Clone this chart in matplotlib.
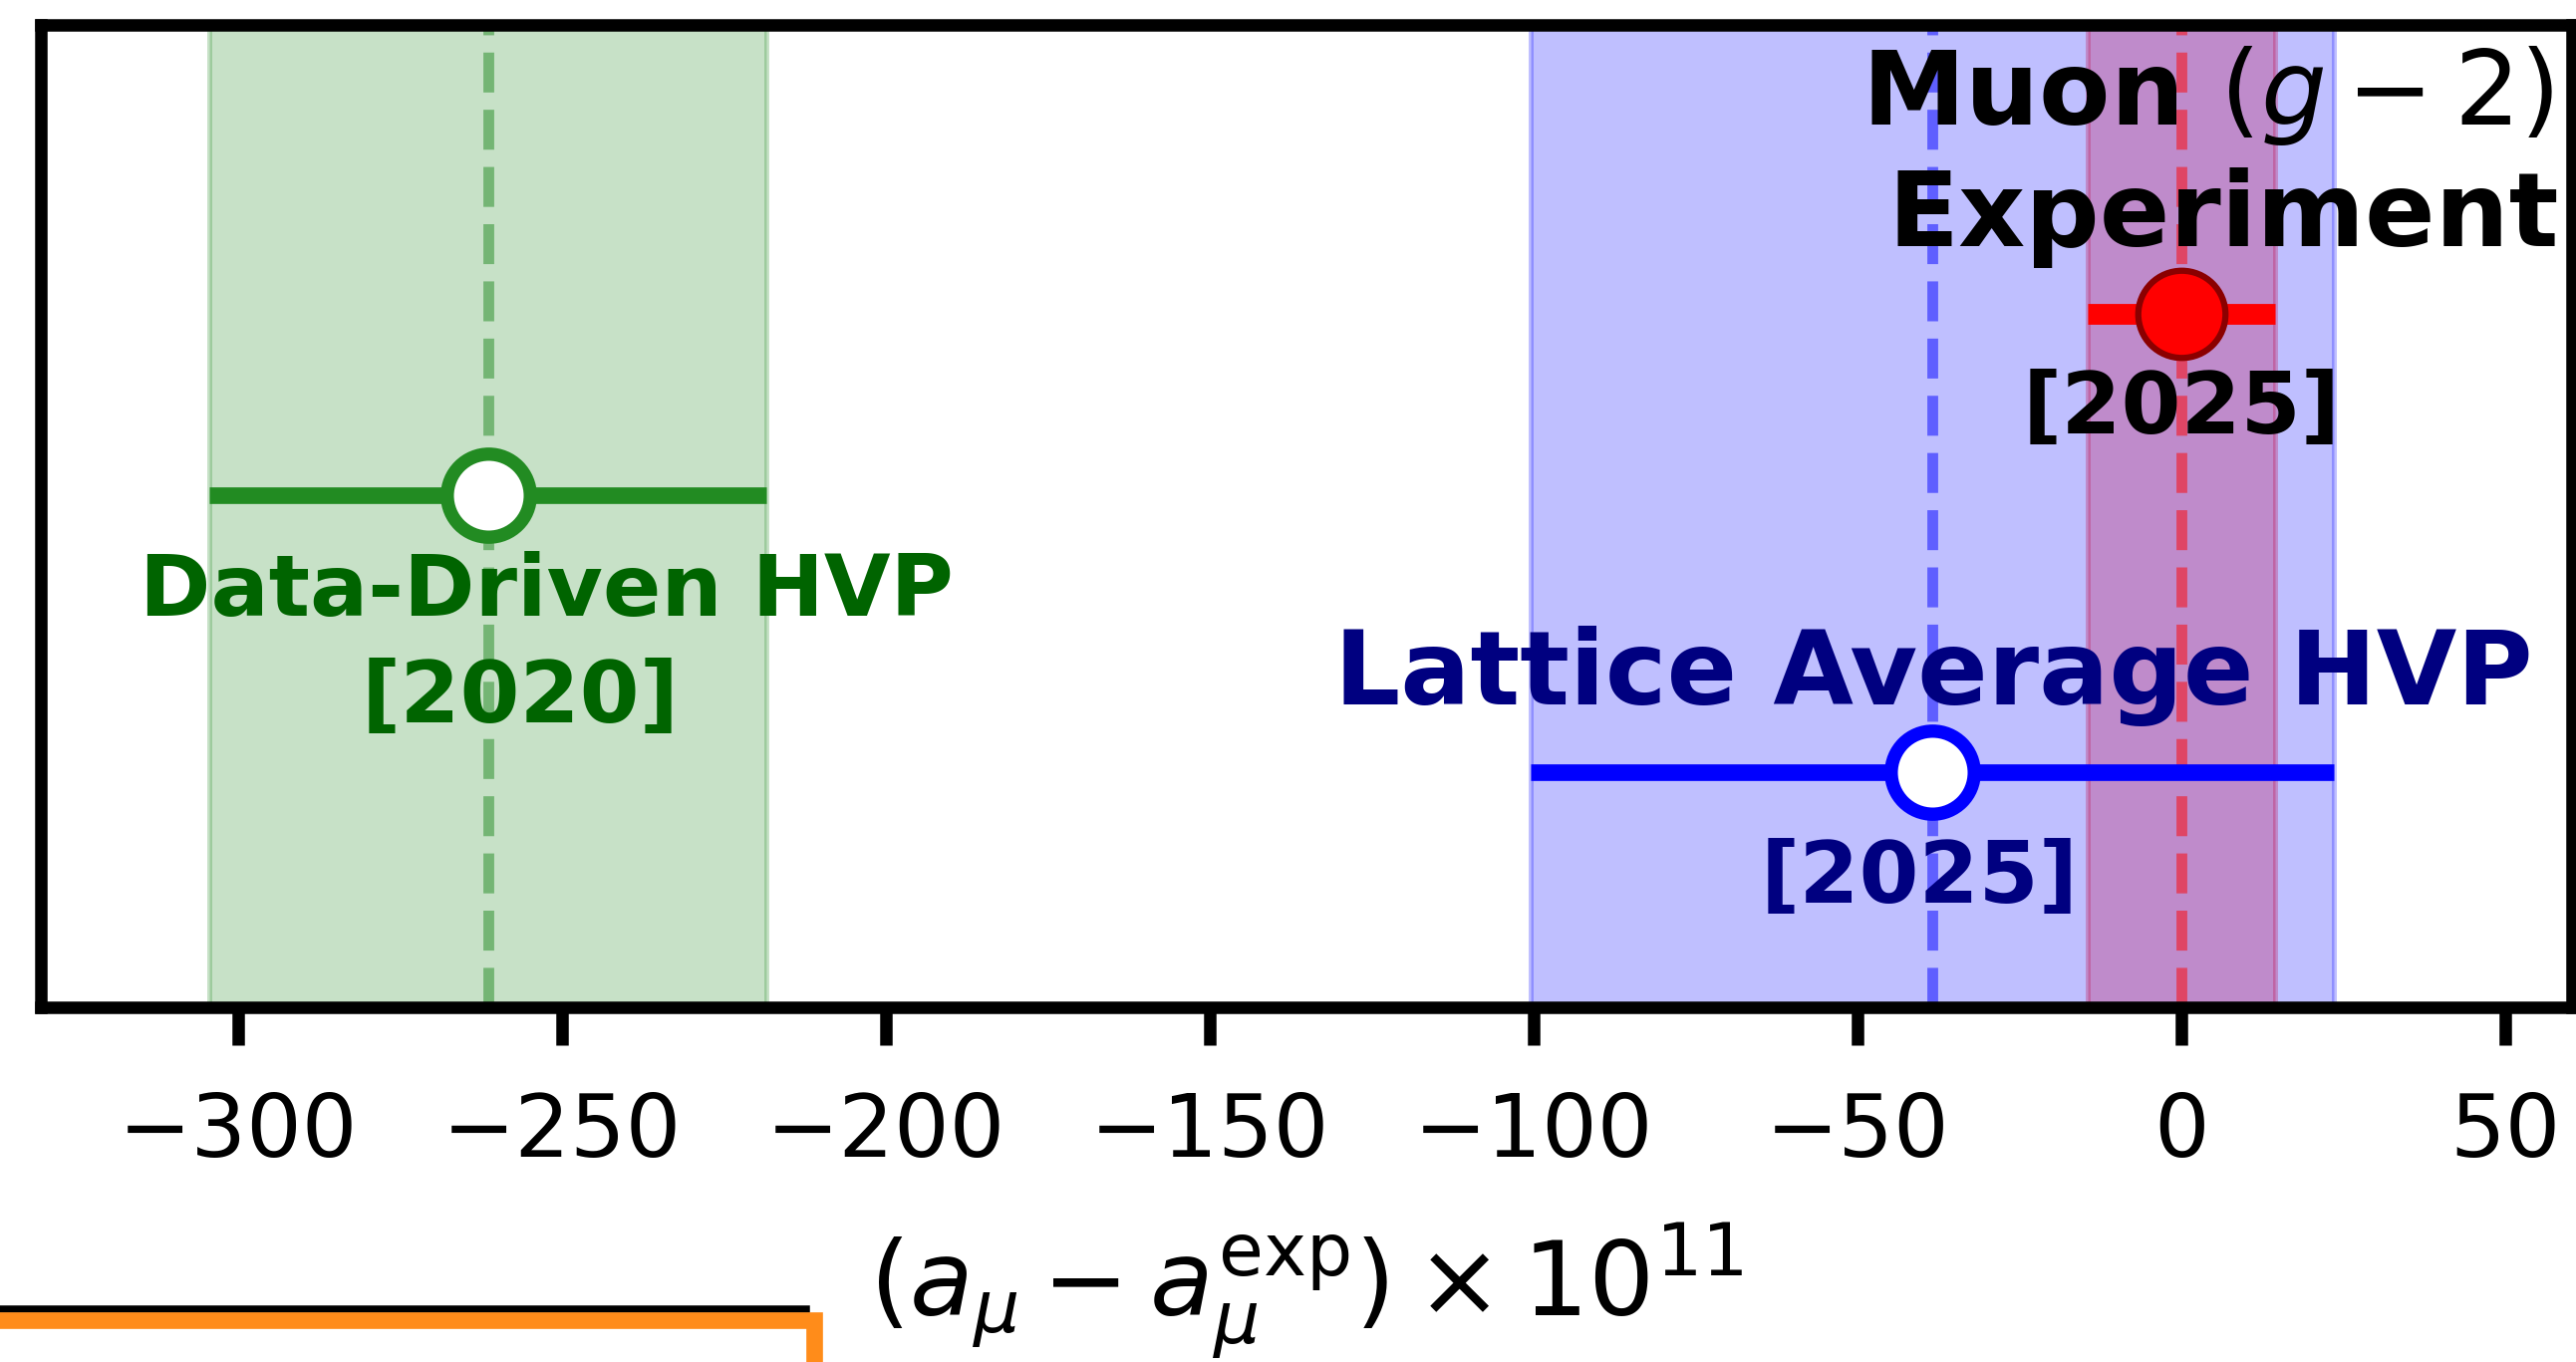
import matplotlib
matplotlib.use("Agg")
import matplotlib.pyplot as plt
from matplotlib.lines import Line2D

# Values of (a_mu - a_mu^exp) x 1e11 with their 1-sigma uncertainties
names = ["Experiment", "Data-Driven HVP", "Lattice Average HVP"]
centers = [0.0, -261.5, -38.5]
errors = [14.5, 43.0, 62.0]
years = ["[2025]", "[2020]", "[2025]"]
rows = [0.706, 0.521, 0.239]          # vertical placement of each result

xticks = [-300, -250, -200, -150, -100, -50, 0, 50]

plt.rcParams["font.family"] = ["DejaVu Sans"]
plt.rcParams["mathtext.fontset"] = "dejavusans"

fig = plt.figure(figsize=(8.62, 4.56), dpi=300)
ax = fig.add_axes([0.0159, 0.2602, 0.9821, 0.7208])
ax.set_xlim(-330.5, 60.3)
ax.set_ylim(0, 1)

exp_c, dd_c, lat_c = centers
exp_e, dd_e, lat_e = errors
exp_y, dd_y, lat_y = rows

# uncertainty bands
ax.axvspan(exp_c - exp_e, exp_c + exp_e, color="red", alpha=0.27, lw=1.2, zorder=1)
ax.axvspan(dd_c - dd_e, dd_c + dd_e, color="forestgreen", alpha=0.25, lw=1.2, zorder=1)
ax.axvspan(lat_c - lat_e, lat_c + lat_e, color="blue", alpha=0.25, lw=1.2, zorder=1.1)

# central values
ax.axvline(exp_c, color="red", alpha=0.5, ls="--", lw=2.6, zorder=2)
ax.axvline(dd_c, color="forestgreen", alpha=0.5, ls="--", lw=2.6, zorder=2)
ax.axvline(lat_c, color="blue", alpha=0.5, ls="--", lw=2.6, zorder=2)

# points with error bars
ax.errorbar(exp_c, exp_y, xerr=exp_e, fmt="o", color="red", ecolor="red",
            elinewidth=5, ms=21, mfc="red", mec="darkred", mew=1.5,
            capsize=0, zorder=5)
ax.errorbar(dd_c, dd_y, xerr=dd_e, fmt="o", color="forestgreen", ecolor="forestgreen",
            elinewidth=4, ms=20, mfc="white", mec="forestgreen", mew=3.2,
            capsize=0, zorder=5)
ax.errorbar(lat_c, lat_y, xerr=lat_e, fmt="o", color="blue", ecolor="blue",
            elinewidth=4, ms=20, mfc="white", mec="blue", mew=3.2,
            capsize=0, zorder=5)

big = 25
small = 20.7
ax.text(57.4, 0.929, r"Muon $(g-2)$", ha="right", va="center",
        fontsize=big, fontweight="bold", color="black", zorder=6)
ax.text(58.4, 0.805, names[0], ha="right", va="center",
        fontsize=big, fontweight="bold", color="black", zorder=6)
ax.text(exp_c, 0.609, years[0], ha="center", va="center",
        fontsize=small, fontweight="bold", color="black", zorder=6)

ax.text(-252.4, 0.423, names[1], ha="center", va="center",
        fontsize=small, fontweight="bold", color="darkgreen", zorder=6)
ax.text(-256.5, 0.315, years[1], ha="center", va="center",
        fontsize=small, fontweight="bold", color="darkgreen", zorder=6)

ax.text(-38.2, 0.338, names[2], ha="center", va="center",
        fontsize=big, fontweight="bold", color="navy", zorder=6)
ax.text(-40.5, 0.131, years[2], ha="center", va="center",
        fontsize=small, fontweight="bold", color="navy", zorder=6)

ax.set_xticks(xticks)
ax.set_yticks([])
ax.tick_params(axis="x", labelsize=21, width=3, length=9, pad=11)
for sp in ax.spines.values():
    sp.set_linewidth(3)
ax.set_xlabel(r"$(a_\mu - a_\mu^{\mathrm{exp}}) \times 10^{11}$", fontsize=big, labelpad=11)

# orange marker stroke along the lower left edge
fig.add_artist(Line2D([0.0, 0.313], [0.039, 0.039], transform=fig.transFigure,
                      color="black", lw=1.8, zorder=9))
fig.add_artist(Line2D([0.0, 0.316, 0.316], [0.031, 0.031, 0.0], transform=fig.transFigure,
                      color="#ff8c1a", lw=4.0, zorder=10, solid_joinstyle="miter"))

fig.savefig("out.png", dpi=300)
